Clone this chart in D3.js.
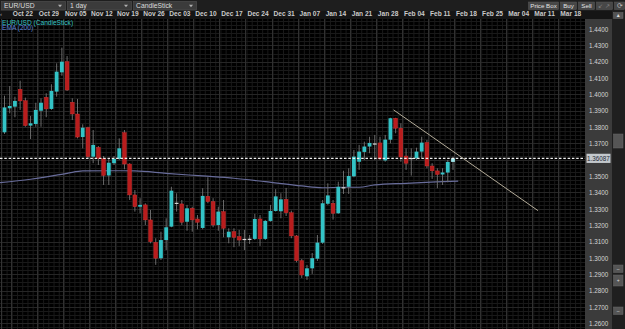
<!DOCTYPE html>
<html>
<head>
<meta charset="utf-8">
<script src="https://cdn.jsdelivr.net/npm/d3@7"></script>
<style>
  html, body { margin: 0; padding: 0; background: #000; }
  svg { display: block; font-family: "Liberation Sans", Arial, sans-serif; }
</style>
</head>
<body>
<svg id="chart" width="625" height="329"></svg>
<script>
const width = 625;
const height = 329;

// ===============================================================
// Data (daily EUR/USD candles)

const open = [1.3768,1.3915,1.3925,1.4031,1.3961,1.3809,1.3819,1.3900,1.3982,1.3911,
  1.4017,1.4135,1.4200,1.3952,1.3880,1.3739,1.3796,1.3619,1.3676,1.3607,
  1.3504,1.3579,1.3605,1.3766,1.3574,1.3385,1.3313,1.3324,1.3232,1.3095,
  1.2998,1.3109,1.3191,1.3337,1.3330,1.3221,1.3303,1.3238,1.3183,1.3377,
  1.3344,1.3201,1.3283,1.3126,1.3160,1.3130,1.3116,1.3117,1.3116,1.3238,
  1.3116,1.3226,1.3287,1.3285,1.3358,1.3276,1.3134,1.2983,1.2887,1.2936,
  1.2995,1.3093,1.3331,1.3334,1.3273,1.3432,1.3435,1.3499,1.3588,1.3648,
  1.3681,1.3700,1.3703,1.3596,1.3723,1.3854,1.3793,1.3623,1.3611,1.3609,
  1.3650,1.3705,1.3562,1.3532,1.3510,1.3522,1.3587];

const close = [1.3920,1.3929,1.3960,1.3960,1.3809,1.3823,1.3905,1.3949,1.3911,1.4021,
  1.4139,1.4200,1.4027,1.3880,1.3739,1.3796,1.3619,1.3691,1.3608,1.3504,
  1.3582,1.3605,1.3670,1.3574,1.3385,1.3313,1.3324,1.3232,1.3099,1.2998,
  1.3109,1.3187,1.3411,1.3337,1.3218,1.3303,1.3232,1.3218,1.3379,1.3344,
  1.3201,1.3283,1.3181,1.3160,1.3126,1.3109,1.3116,1.3117,1.3238,1.3116,
  1.3226,1.3287,1.3376,1.3358,1.3276,1.3134,1.2983,1.2895,1.2936,1.2998,
  1.3093,1.3334,1.3382,1.3273,1.3435,1.3432,1.3501,1.3619,1.3650,1.3681,
  1.3703,1.3700,1.3605,1.3723,1.3854,1.3793,1.3617,1.3579,1.3611,1.3650,
  1.3705,1.3562,1.3532,1.3510,1.3522,1.3587,1.36087];

const high = [1.3992,1.4051,1.3986,1.4084,1.3980,1.3868,1.3949,1.3976,1.4007,1.4062,
  1.4190,1.4286,1.4235,1.3976,1.3972,1.3817,1.3802,1.3782,1.3684,1.3623,
  1.3609,1.3623,1.3731,1.3782,1.3579,1.3415,1.3365,1.3334,1.3293,1.3120,
  1.3160,1.3242,1.3435,1.3395,1.3354,1.3324,1.3313,1.3262,1.3426,1.3493,
  1.3365,1.3313,1.3354,1.3181,1.3181,1.3171,1.3171,1.3140,1.3269,1.3262,
  1.3232,1.3324,1.3420,1.3395,1.3428,1.3289,1.3140,1.2993,1.2957,1.3030,
  1.3140,1.3354,1.3456,1.3354,1.3466,1.3533,1.3548,1.3660,1.3691,1.3711,
  1.3741,1.3752,1.3741,1.3752,1.3857,1.3857,1.3823,1.3670,1.3670,1.3674,
  1.3741,1.3721,1.3579,1.3548,1.3548,1.3599,1.3619];

const low = [1.3758,1.3884,1.3860,1.3905,1.3802,1.3727,1.3802,1.3802,1.3860,1.3905,
  1.3986,1.4114,1.4021,1.3843,1.3731,1.3670,1.3609,1.3579,1.3568,1.3446,
  1.3446,1.3568,1.3599,1.3542,1.3354,1.3283,1.3273,1.3201,1.3089,1.2957,
  1.2987,1.3048,1.3187,1.3283,1.3201,1.3166,1.3160,1.3175,1.3175,1.3334,
  1.3187,1.3166,1.3126,1.3089,1.3065,1.3073,1.3048,1.3085,1.3109,1.3073,
  1.3109,1.3221,1.3283,1.3242,1.3256,1.3120,1.2973,1.2877,1.2865,1.2902,
  1.2981,1.3085,1.3324,1.3234,1.3269,1.3391,1.3391,1.3493,1.3538,1.3599,
  1.3640,1.3599,1.3599,1.3588,1.3701,1.3762,1.3588,1.3538,1.3503,1.3599,
  1.3609,1.3548,1.3483,1.3426,1.3446,1.3462,1.3538];

// EMA(200) read at a few candles
const emaIdx = [-1, 5, 12, 15, 21, 25, 31, 38, 44, 50, 57, 61, 65, 68, 71, 77, 84, 87];
const emaVal = [1.3460,1.3481,1.3517,1.3532,1.3533,1.3532,1.3517,1.3501,1.3487,
  1.3466,1.3440,1.3429,1.3432,1.3432,1.3446,1.3456,1.3466,1.3470];

// hand drawn trend line
const trendIdx = [74.6, 102.3];
const trendVal = [1.3905, 1.3289];

const lastPrice = 1.36087;

const weekLabels = ["Oct 22","Oct 29","Nov 05","Nov 12","Nov 19","Nov 26","Dec 03","Dec 10",
  "Dec 17","Dec 24","Dec 31","Jan 07","Jan 14","Jan 21","Jan 28","Feb 04","Feb 11","Feb 18",
  "Feb 25","Mar 04","Mar 11","Mar 18"];
const weekIdx = [1.2,6.2,11.2,16.2,21.2,26.2,31.2,36.2,41.2,46.2,51.2,56.2,61.2,66.2,71.2,
  76.2,81.2,86.2,91.2,96.2,101.2,106.2];

const priceTicks = [1.26,1.27,1.28,1.29,1.30,1.31,1.32,1.33,1.34,1.35,1.36,1.37,1.38,1.39,
  1.40,1.41,1.42,1.43,1.44];

// ===============================================================
// Layout

const plot = {left: 0, right: 585, top: 19, bottom: height};
const axis_w = 27;
const scroll_x = plot.right + axis_w;
const up_color = "#33c3c6";
const down_color = "#b81d1d";
const doji_color = "#d8d8d8";
const wick_color = "#6c6c6c";

const svg = d3.select("#chart");

const x = d3.scaleLinear().domain([0, 86]).range([4.5, 453]);
const y = d3.scaleLinear().domain([1.27, 1.44]).range([306.9, 29]);

svg.append("defs").append("clipPath").attr("id", "plotclip")
  .append("rect")
  .attr("x", plot.left).attr("y", plot.top)
  .attr("width", plot.right - plot.left).attr("height", plot.bottom - plot.top);

svg.append("rect").attr("width", width).attr("height", height).attr("fill", "#000");

const g = svg.append("g").attr("clip-path", "url(#plotclip)");

// ===============================================================
// Grid

g.append("g").selectAll("line")
  .data(d3.range(-2, 112))
  .join("line")
  .attr("x1", d => x(d) + 2.6).attr("x2", d => x(d) + 2.6)
  .attr("y1", plot.top).attr("y2", plot.bottom)
  .attr("stroke", "#191919").attr("stroke-width", 1);

g.append("g").selectAll("line")
  .data(d3.range(1.255, 1.4501, 0.0025))
  .join("line")
  .attr("x1", plot.left).attr("x2", plot.right)
  .attr("y1", d => Math.round(y(d)) + 0.5).attr("y2", d => Math.round(y(d)) + 0.5)
  .attr("stroke", "#191919");

g.append("g").selectAll("line")
  .data(priceTicks)
  .join("line")
  .attr("x1", plot.left).attr("x2", plot.right)
  .attr("y1", d => Math.round(y(d)) + 0.5).attr("y2", d => Math.round(y(d)) + 0.5)
  .attr("stroke", "#262626");

g.append("g").selectAll("line")
  .data(weekIdx)
  .join("line")
  .attr("x1", d => Math.round(x(d)) + 0.5).attr("x2", d => Math.round(x(d)) + 0.5)
  .attr("y1", plot.top).attr("y2", plot.bottom)
  .attr("stroke", "#303030");

g.append("line")
  .attr("x1", 1.5).attr("x2", 1.5).attr("y1", plot.top).attr("y2", plot.bottom)
  .attr("stroke", "#333");

// ===============================================================
// EMA line

const ema = emaIdx.map((d, i) => ({i: d, v: emaVal[i]}));
g.append("path")
  .datum(ema)
  .attr("d", d3.line().curve(d3.curveMonotoneX).x(d => x(d.i)).y(d => y(d.v)))
  .attr("fill", "none")
  .attr("stroke", "#686c9a")
  .attr("stroke-width", 1.2);

// ===============================================================
// Candles

const candles = open.map((o, i) => ({i, o, c: close[i], h: high[i], l: low[i]}));
const candle_color = d => d.i === candles.length - 1 ? "#9fe6ea"
  : d.c > d.o ? up_color : d.c < d.o ? down_color : doji_color;

const cg = g.append("g").selectAll("g")
  .data(candles)
  .join("g");

cg.append("line")
  .attr("x1", d => x(d.i)).attr("x2", d => x(d.i))
  .attr("y1", d => y(d.h)).attr("y2", d => y(d.l))
  .attr("stroke", wick_color).attr("stroke-width", 1);

cg.append("rect")
  .attr("x", d => x(d.i) - 1.9)
  .attr("width", 3.8)
  .attr("y", d => y(Math.max(d.o, d.c)))
  .attr("height", d => Math.max(1.2, Math.abs(y(d.o) - y(d.c))))
  .attr("fill", candle_color)
  .attr("stroke", d => d.c < d.o ? "#d83434" : "none")
  .attr("stroke-width", 0.4);

// ===============================================================
// Trend line + last price

g.append("line")
  .attr("x1", x(trendIdx[0])).attr("y1", y(trendVal[0]))
  .attr("x2", x(trendIdx[1])).attr("y2", y(trendVal[1]))
  .attr("stroke", "#b3ab98").attr("stroke-width", 1);

g.append("line")
  .attr("x1", plot.left).attr("x2", plot.right)
  .attr("y1", y(lastPrice)).attr("y2", y(lastPrice))
  .attr("stroke", "#f2f2f2").attr("stroke-width", 1.1)
  .attr("stroke-dasharray", "2.5,1.8");

// legend
g.append("text").attr("x", 2).attr("y", 24.6)
  .attr("fill", "#38c4c4").style("font-size", "6.6px")
  .text("EUR/USD (CandleStick)");
g.append("text").attr("x", 2).attr("y", 30.4)
  .attr("fill", "#5f86dd").style("font-size", "6.6px")
  .text("EMA (200)");

// ===============================================================
// Price axis panel

svg.append("rect")
  .attr("x", plot.right).attr("y", plot.top - 8)
  .attr("width", axis_w).attr("height", height - plot.top + 8)
  .attr("fill", "#3b3b3b");

// the last-price box hides any tick label it sits on
const shown_ticks = priceTicks.filter(d => Math.abs(y(d) - y(lastPrice)) > 8);

const y_axis = svg.append("g")
  .attr("transform", `translate(${plot.right + axis_w / 2},0)`)
  .call(d3.axisRight(y).tickValues(shown_ticks).tickFormat(d3.format(".4f")).tickSize(0));
y_axis.select(".domain").remove();
y_axis.selectAll("text")
  .attr("x", 0).attr("dy", "0.35em")
  .attr("text-anchor", "middle")
  .attr("fill", "#d4d4d4")
  .style("font-size", "6.3px")
  .style("font-family", "'Liberation Sans', Arial, sans-serif");

svg.append("rect")
  .attr("x", plot.right + 1.5).attr("y", y(lastPrice) - 4.6)
  .attr("width", axis_w - 3).attr("height", 9.2)
  .attr("fill", "#c3c8cc");
svg.append("text")
  .attr("x", plot.right + axis_w / 2).attr("y", y(lastPrice))
  .attr("dy", "0.35em").attr("text-anchor", "middle")
  .attr("fill", "#1e2a36").style("font-size", "6.3px")
  .text(d3.format(".5f")(lastPrice));

// scrollbar column
svg.append("rect")
  .attr("x", scroll_x).attr("y", 11)
  .attr("width", width - scroll_x).attr("height", height - 11)
  .attr("fill", "#1f1f1f");
[[12.5, 6, "▲"], [134, 14, ""], [265, 7.5, "–"], [275, 11, "+"], [307, 7.5, "–"]].forEach(([by, bh, t]) => {
  svg.append("rect")
    .attr("x", scroll_x + 1.5).attr("y", by)
    .attr("width", 9.5).attr("height", bh)
    .attr("fill", "#555").attr("stroke", "#6a6a6a").attr("stroke-width", 0.5);
  svg.append("text")
    .attr("x", scroll_x + 6.2).attr("y", by + bh / 2).attr("dy", "0.35em")
    .attr("text-anchor", "middle").attr("fill", "#ddd").style("font-size", "5px")
    .text(t);
});

// ===============================================================
// Date axis row

svg.append("rect")
  .attr("x", 0).attr("y", 11)
  .attr("width", scroll_x).attr("height", plot.top - 11)
  .attr("fill", "#151515");

const x_axis = svg.append("g")
  .attr("transform", `translate(0,${plot.top - 1})`)
  .call(d3.axisTop(x).tickValues(weekIdx).tickFormat((d, i) => weekLabels[i]).tickSize(0));
x_axis.select(".domain").remove();
x_axis.selectAll("text")
  .attr("x", 1.5).attr("y", -1.6)
  .attr("text-anchor", "start")
  .attr("fill", "#c9c9c9")
  .style("font-size", "6.6px")
  .style("font-weight", "bold")
  .style("font-family", "'Liberation Sans', Arial, sans-serif");
x_axis.append("text")
  .attr("x", 1).attr("y", -1.6).attr("fill", "#aaa").style("font-size", "6px").text("‹");

// ===============================================================
// Toolbar

svg.append("rect").attr("width", width).attr("height", 11).attr("fill", "#1e1e1e");

const dropdowns = [
  {x: 1, w: 64, label: "EUR/USD"},
  {x: 67, w: 64, label: "1 day"},
  {x: 133, w: 63, label: "CandleStick"}
];
dropdowns.forEach(dd => {
  svg.append("rect")
    .attr("x", dd.x + 0.5).attr("y", 1.5).attr("width", dd.w).attr("height", 8.5)
    .attr("fill", "#3b3b3b").attr("stroke", "#545454").attr("stroke-width", 0.6);
  svg.append("text")
    .attr("x", dd.x + 3).attr("y", 8.4)
    .attr("fill", "#dcdcdc").style("font-size", "6.8px")
    .text(dd.label);
  const ax = dd.x + dd.w - 5;
  svg.append("path")
    .attr("d", `M${ax - 2},4.7 L${ax + 2},4.7 L${ax},7.2 Z`)
    .attr("fill", "#b0b0b0");
});

const buttons = [
  {x: 528, w: 30, label: "Price Box"},
  {x: 560, w: 16, label: "Buy"},
  {x: 578, w: 16, label: "Sell"},
  {x: 596, w: 16, label: ""},
  {x: 614, w: 10, label: ""}
];
buttons.forEach(b => {
  svg.append("rect")
    .attr("x", b.x + 0.5).attr("y", 2).attr("width", b.w).attr("height", 7.5)
    .attr("fill", "#474747").attr("stroke", "#5a5a5a").attr("stroke-width", 0.5);
  svg.append("text")
    .attr("x", b.x + b.w / 2 + 0.5).attr("y", 8.1)
    .attr("text-anchor", "middle")
    .attr("fill", "#e2e2e2").style("font-size", "6.2px")
    .text(b.label);
});
svg.append("text").attr("x", 604).attr("y", 8).attr("text-anchor", "middle")
  .attr("fill", "#888").style("font-size", "5.5px").text("↙ ↗");
svg.append("text").attr("x", 619.5).attr("y", 8.2).attr("text-anchor", "middle")
  .attr("fill", "#bbb").style("font-size", "6.5px").text("⟳");
</script>
</body>
</html>
